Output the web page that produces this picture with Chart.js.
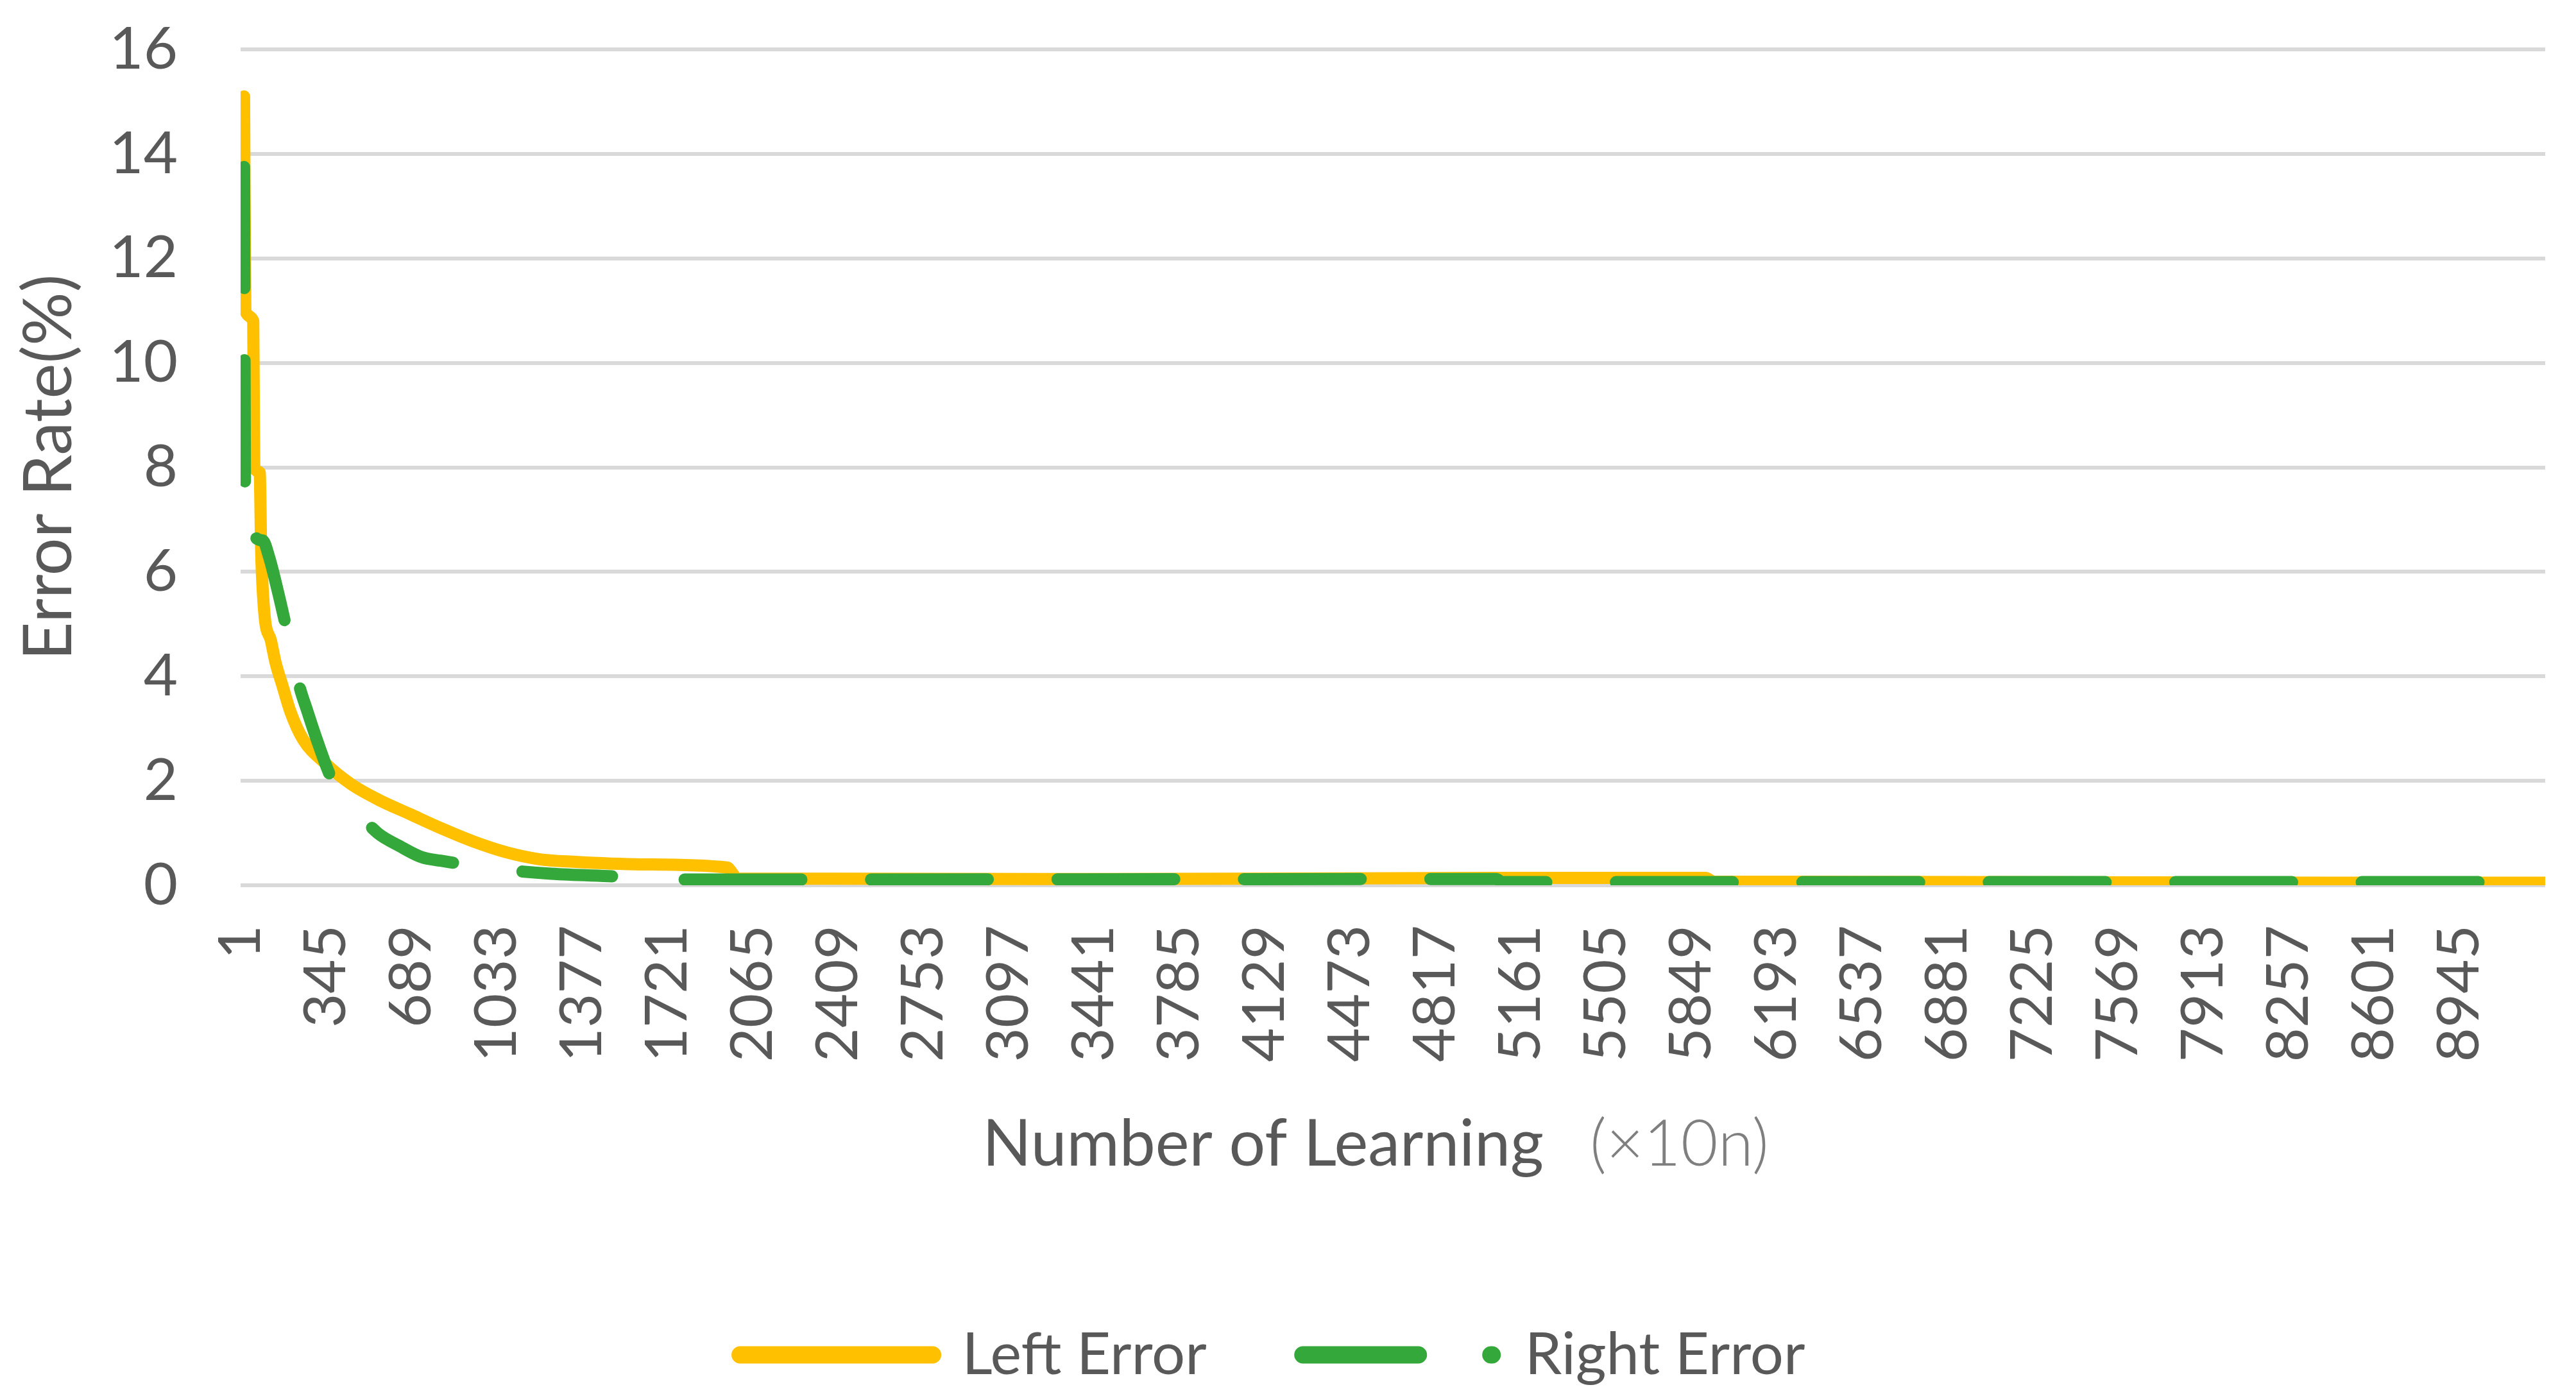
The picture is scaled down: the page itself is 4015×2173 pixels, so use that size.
<!DOCTYPE html>
<html>
<head>
<meta charset="utf-8">
<script src="https://cdn.jsdelivr.net/npm/chart.js@4.4.1/dist/chart.umd.min.js"></script>
<style>
  html, body { margin: 0; padding: 0; background: #fff; }
  #wrap { width: 4015px; height: 2173px; position: relative; }
</style>
</head>
<body>
<div id="wrap"><canvas id="myChart"></canvas></div>
<script>
// x tick labels (number of learning, x10n)
var xTicks = [1, 345, 689, 1033, 1377, 1721, 2065, 2409, 2753, 3097, 3441, 3785, 4129, 4473,
              4817, 5161, 5505, 5849, 6193, 6537, 6881, 7225, 7569, 7913, 8257, 8601, 8945];

// Left Error
var leftX = [15, 20, 52, 56, 78, 84, 96, 124, 142, 168, 202, 253, 341, 445, 556, 685, 815,
             944, 1073, 1203, 1340, 1617, 1961, 2005, 3500, 5062, 5905, 5940, 9290];
var leftY = [15.1, 11.0, 10.8, 8.0, 7.9, 6.4, 5.25, 4.67, 4.26, 3.85, 3.32, 2.79, 2.34, 1.94, 1.64, 1.36, 1.08,
             0.83, 0.63, 0.50, 0.45, 0.40, 0.34, 0.13, 0.12, 0.14, 0.14, 0.07, 0.05];

// Right Error
var rightX = [15, 19, 90, 116, 150, 186, 238, 271, 305, 375, 497, 556, 642, 730, 807,
              1081, 1254, 1513, 1772, 5062, 5085, 9290];
var rightY = [13.75, 7.4, 6.6, 6.28, 5.65, 4.91, 3.81, 3.32, 2.83, 1.97, 1.27, 0.99, 0.75, 0.54, 0.47,
              0.29, 0.22, 0.17, 0.11, 0.12, 0.06, 0.06];

var xTitle = 'Number of Learning';
var xUnit = '(\u00d710n)';

function toPoints(xs, ys) {
  return xs.map(function (x, i) { return { x: x, y: ys[i] }; });
}

// dash of the green line: steep start, bent part, flat tail
var rightDash = [[189, 112], [140, 109], [182, 108.6]];
var rightDashOffset = [0, 184, 283.4];
function rightPart(x) { return x < 19 ? 0 : (x < 1772 ? 1 : 2); }

var legendDash = [[], [180, 113, 2, 113]];

// two-coloured x axis title, like the original
var xTitlePlugin = {
  id: 'xTitle',
  afterDraw: function (chart) {
    var c = chart.ctx, a = chart.chartArea;
    c.save();
    c.textBaseline = 'middle';
    c.textAlign = 'left';
    c.font = '100px Lato';
    var w1 = c.measureText(xTitle).width;
    c.font = '300 100px Lato';
    var w2 = c.measureText(xUnit).width;
    var gap = 72;
    var x0 = (a.left + a.right) / 2 - 27 - (w1 + gap + w2) / 2;
    var y = a.bottom + 405;
    c.font = '100px Lato';
    c.fillStyle = '#595959';
    c.fillText(xTitle, x0, y);
    c.font = '300 100px Lato';
    c.fillStyle = '#7f7f7f';
    c.fillText(xUnit, x0 + w1 + gap, y);
    c.restore();
  }
};

var ctx = document.getElementById('myChart').getContext('2d');
var myChart = new Chart(ctx, {
  type: 'line',
  data: {
    datasets: [{
      label: 'Left Error',
      data: toPoints(leftX, leftY),
      borderColor: '#FFC000',
      backgroundColor: '#FFC000',
      borderWidth: 19,
      borderCapStyle: 'round',
      borderJoinStyle: 'round',
      cubicInterpolationMode: 'monotone',
      pointRadius: 0,
      fill: false,
      order: 1
    }, {
      label: 'Right Error',
      data: toPoints(rightX, rightY),
      borderColor: '#34A83A',
      backgroundColor: '#34A83A',
      borderWidth: 19,
      borderDash: [182, 108.6],
      borderCapStyle: 'round',
      borderJoinStyle: 'round',
      cubicInterpolationMode: 'monotone',
      pointRadius: 0,
      fill: false,
      order: 0,
      segment: {
        borderDash: function (c) { return rightDash[rightPart(c.p0.parsed.x)]; },
        borderDashOffset: function (c) { return rightDashOffset[rightPart(c.p0.parsed.x)]; }
      }
    }]
  },
  options: {
    responsive: true,
    maintainAspectRatio: false,
    animation: false,
    devicePixelRatio: 1,
    layout: { padding: { top: 0, right: 48, bottom: 5, left: 0 } },
    plugins: {
      tooltip: { enabled: false },
      legend: {
        position: 'bottom',
        labels: {
          usePointStyle: true,
          pointStyleWidth: 300,
          padding: 150,
          color: '#595959',
          font: { family: 'Lato', size: 92 },
          generateLabels: function (chart) {
            return chart.data.datasets.map(function (ds, i) {
              return {
                text: ds.label,
                strokeStyle: ds.borderColor,
                fillStyle: ds.borderColor,
                lineWidth: 27,
                lineCap: 'round',
                lineDash: legendDash[i],
                pointStyle: 'line',
                fontColor: '#595959',
                hidden: false,
                datasetIndex: i
              };
            });
          }
        }
      }
    },
    scales: {
      x: {
        type: 'linear',
        min: 1,
        max: 9290,
        afterBuildTicks: function (scale) {
          scale.ticks = xTicks.map(function (v) { return { value: v }; });
        },
        afterFit: function (scale) { scale.height = 536; },
        grid: { display: false, drawTicks: false },
        border: { display: false },
        ticks: {
          autoSkip: false,
          minRotation: 90,
          maxRotation: 90,
          padding: 62,
          color: '#595959',
          font: { family: 'Lato', size: 92 },
          callback: function (v) { return String(v); }
        }
      },
      y: {
        min: 0,
        max: 16,
        afterFit: function (scale) {
          scale.width = 375;
          scale.paddingTop = 77;
          scale.paddingBottom = 0;
        },
        grid: { color: '#d9d9d9', lineWidth: 6, drawTicks: false },
        border: { display: false },
        ticks: {
          stepSize: 2,
          padding: 98,
          color: '#595959',
          font: { family: 'Lato', size: 92 }
        },
        title: {
          display: true,
          text: 'Error Rate(%)',
          color: '#595959',
          font: { family: 'Lato', size: 104 },
          padding: { top: 15, bottom: 0 }
        }
      }
    }
  },
  plugins: [xTitlePlugin]
});
</script>
</body>
</html>
